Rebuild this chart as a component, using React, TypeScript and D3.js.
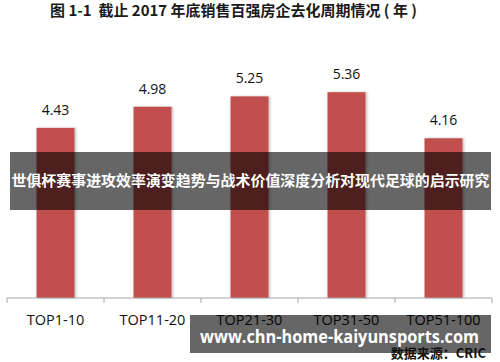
import React from "react";
import * as d3 from "d3";

const categories = ["TOP1-10", "TOP11-20", "TOP21-30", "TOP31-50", "TOP51-100"];
const values = [4.43, 4.98, 5.25, 5.36, 4.16];
const titleText = "图 1-1  截止 2017 年底销售百强房企去化周期情况 ( 年 )";
const bannerText = "世俱杯赛事进攻效率演变趋势与战术价值深度分析对现代足球的启示研究";
const urlText = "www.chn-home-kaiyunsports.com";
const sourceText = "数据来源：CRIC";

export default function App() {
  const W = 500, H = 362;
  const xb = d3.scaleBand<string>().domain(categories).range([7, 492]);
  const y = d3.scaleLinear().domain([0, 6]).range([298, 67.6]);
  const cjk = "'Noto Sans CJK SC', 'Noto Sans', sans-serif";
  const lat = "'Open Sans', 'Noto Sans', sans-serif";
  const edges = [...categories.map((c) => xb(c) as number), 492];
  return (
    <svg width={W} height={H} style={{ position: "absolute", left: 0, top: 0, background: "#fff" }}>
      <defs>
        <filter id="sh" x="-20%" y="-5%" width="140%" height="110%">
          <feDropShadow dx="1.5" dy="0" stdDeviation="1" floodColor="#000" floodOpacity="0.25" />
        </filter>
      </defs>
      <text x={50} y={16} xmlSpace="preserve" style={{ whiteSpace: "pre" }} fontFamily={cjk} fontWeight="bold" fontSize={15} fill="#1a1a1a" textLength={367} lengthAdjust="spacingAndGlyphs">
        {titleText}
      </text>
      {categories.map((c, i) => {
        const cx = (xb(c) as number) + xb.bandwidth() / 2;
        return (
          <g key={c}>
            <rect x={cx - 19} y={y(values[i])} width={38} height={298 - y(values[i])} fill="#c0504d" filter="url(#sh)" />
            <text x={cx} y={y(values[i]) - 13} textAnchor="middle" fontFamily={lat} fontSize={14} fill="#111">
              {values[i].toFixed(2)}
            </text>
            <text x={cx} y={325} textAnchor="middle" fontFamily={lat} fontSize={14.5} fill="#111">
              {c}
            </text>
          </g>
        );
      })}
      <line x1={7} x2={492} y1={298} y2={298} stroke="#a6a6a6" strokeWidth={1} />
      {edges.map((e, i) => (
        <line key={i} x1={e} x2={e} y1={298} y2={303} stroke="#a6a6a6" strokeWidth={1} />
      ))}
      <rect x={10} y={152} width={481} height={58} fill="rgba(0,0,0,0.6)" />
      <text x={250.5} y={186} textAnchor="middle" fontFamily={cjk} fontWeight="bold" fontSize={14.5} fill="#fff" textLength={478} lengthAdjust="spacingAndGlyphs">
        {bannerText}
      </text>
      <rect x={190} y={315} width={301} height={38} fill="rgba(0,0,0,0.6)" />
      <text x={339.5} y={343} textAnchor="middle" fontFamily={lat} fontWeight="bold" fontSize={17} fill="#fff" textLength={279} lengthAdjust="spacingAndGlyphs">
        {urlText}
      </text>
      <text x={486} y={358} textAnchor="end" fontFamily={cjk} fontWeight="bold" fontSize={13} fill="#111">
        {sourceText}
      </text>
    </svg>
  );
}
